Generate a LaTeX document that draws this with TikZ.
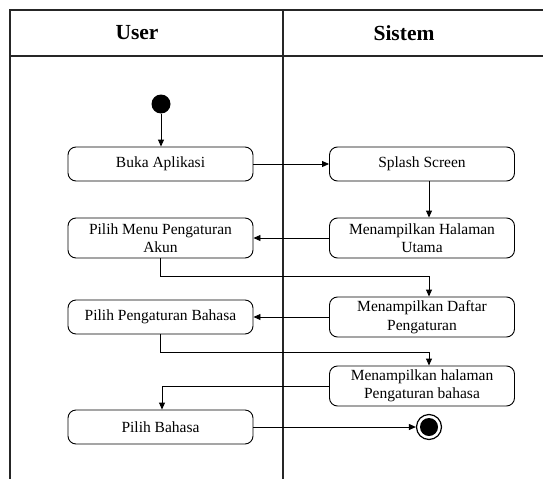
\documentclass[tikz,border=0pt]{standalone}
\usepackage{fontspec}
\setmainfont{Liberation Serif}
\usetikzlibrary{arrows.meta}
\begin{document}
\begin{tikzpicture}[x=1pt,y=-1pt,
  act/.style={draw,rounded corners=8pt,line width=0.9pt,minimum width=185pt,
    align=center,font=\fontsize{15.5}{18.5}\selectfont,inner sep=1pt},
  act1/.style={act,minimum height=34pt},
  act2/.style={act,minimum height=40pt},
  arr/.style={line width=0.9pt,-{Triangle[length=7pt,width=6pt]}},
  lane/.style={line width=1.2pt,draw=black!85},
  head/.style={font=\fontsize{21.5}{24}\selectfont\bfseries}]
\useasboundingbox (0,0) rectangle (543,479);

% swimlane frame
\draw[lane] (543,10) -- (10,10) -- (10,479);
\draw[lane] (10,56) -- (543,56);
\draw[lane] (283,10) -- (283,479);
\node[head] (huser) at (137,33) {User};
\node[head] (hsys) at (404,33) {Sistem};

% activities
\node[circle,fill=black,inner sep=0pt,minimum size=19pt] (start) at (161,104) {};
\node[act1] (buka) at (160.5,164) {Buka Aplikasi};
\node[act1] (splash) at (422,164) {Splash Screen};
\node[act2] (pmpa) at (160.5,238) {Pilih Menu Pengaturan\\Akun};
\node[act2] (mhu) at (422,238) {Menampilkan Halaman\\Utama};
\node[act1] (ppb) at (160.5,317) {Pilih Pengaturan Bahasa};
\node[act2] (mdp) at (422,317) {Menampilkan Daftar\\Pengaturan};
\node[act2] (mhpb) at (422,386) {Menampilkan halaman\\Pengaturan bahasa};
\node[act1] (pb) at (160.5,427) {Pilih Bahasa};
\node[circle,draw,line width=1.2pt,inner sep=0pt,minimum size=25pt] (final) at (429,427) {};
\node[circle,fill=black,inner sep=0pt,minimum size=18pt] (finaldot) at (final) {};

% flow
\draw[arr] (start) -- (start |- buka.north);
\draw[arr] (buka) -- (splash);
\draw[arr] (final |- splash.south) -- (final |- mhu.north);
\draw[arr] (mhu) -- (pmpa);
\draw[arr] (pmpa.south) -- ++(0,18) -| (final |- mdp.north);
\draw[arr] (mdp) -- (ppb);
\draw[arr] (ppb.south) -- ++(0,18) -| (final |- mhpb.north);
\draw[arr] (mhpb.west) -| ([xshift=1.5pt]pb.north);
\draw[arr] (pb) -- (final);
\end{tikzpicture}
\end{document}
